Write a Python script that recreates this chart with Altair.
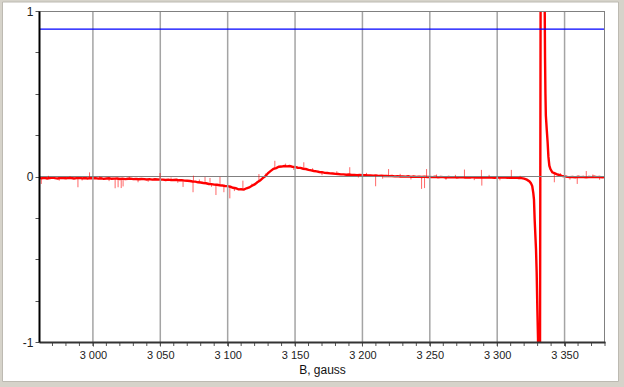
import altair as alt
import pandas as pd

# ---------------- data ----------------
B_main = list(range(2960, 3324, 2))
sig_main = [
    # 2960-3000
    -0.007, -0.011, -0.008, -0.012, -0.009, -0.006, -0.010, -0.012, -0.008, -0.010,
    -0.011, -0.008, -0.009, -0.012, -0.010, -0.008, -0.011, -0.009, -0.012, -0.010, -0.011,
    # 3002-3050
    -0.010, -0.013, -0.011, -0.014, -0.012, -0.011, -0.014, -0.013, -0.012, -0.015,
    -0.013, -0.016, -0.014, -0.013, -0.016, -0.015, -0.017, -0.015, -0.016, -0.018,
    -0.016, -0.019, -0.017, -0.018, -0.019,
    # 3052-3100
    -0.019, -0.021, -0.019, -0.022, -0.021, -0.020, -0.023, -0.022, -0.025, -0.026,
    -0.027, -0.030, -0.031, -0.035, -0.036, -0.039, -0.041, -0.045, -0.046, -0.049,
    -0.050, -0.053, -0.054, -0.057, -0.058,
    # 3102-3140
    -0.062, -0.068, -0.071, -0.078, -0.077, -0.079, -0.071, -0.066, -0.056, -0.048,
    -0.035, -0.025, -0.010, 0.002, 0.021, 0.034, 0.046, 0.051, 0.059, 0.060,
    # 3142-3200
    0.063, 0.061, 0.063, 0.059, 0.058, 0.053, 0.052, 0.047, 0.045, 0.040,
    0.037, 0.033, 0.031, 0.027, 0.026, 0.022, 0.021, 0.019, 0.018, 0.016,
    0.015, 0.013, 0.013, 0.011, 0.012, 0.010, 0.010, 0.008, 0.009, 0.008,
    # 3202-3250
    0.008, 0.006, 0.007, 0.005, 0.006, 0.004, 0.005, 0.003, 0.004, 0.002,
    0.003, 0.001, 0.002, 0.000, 0.001, -0.001, 0.001, -0.002, 0.000, -0.002,
    -0.001, -0.003, -0.001, -0.003, -0.002,
    # 3252-3322
    -0.004, -0.002, -0.005, -0.003, -0.004, -0.006, -0.003, -0.005, -0.004, -0.006,
    -0.005, -0.004, -0.006, -0.005, -0.007, -0.004, -0.006, -0.005, -0.007, -0.006,
    -0.005, -0.007, -0.006, -0.008, -0.006, -0.007, -0.005, -0.007, -0.008, -0.006,
    -0.008, -0.007, -0.009, -0.010, -0.013, -0.019,
]
B_peak = [3324, 3325, 3326, 3326.8, 3327.3, 3327.8, 3328.8, 3329.3, 3329.8, 3330.3,
          3330.8, 3331.5, 3332.5, 3333.5, 3334.5, 3335.2, 3335.5, 3335.8, 3336.1, 3336.8,
          3337.4, 3338.0, 3338.7, 3339.5, 3340.9, 3342, 3344, 3346, 3348, 3350]
sig_peak = [-0.030, -0.040, -0.058, -0.10, -0.14, -0.26, -0.44, -0.58, -0.80, -0.98,
            -1.6, -2.5, 2.5, 3.0, 2.2, 1.1, 0.72, 0.50, 0.37, 0.28,
            0.21, 0.12, 0.065, 0.045, 0.025, 0.022, 0.014, 0.009, 0.004, 0.001]
B_tail = list(range(3352, 3382, 2))
sig_tail = [-0.002, -0.004, -0.003, -0.005, -0.002, -0.004, -0.003, -0.005, -0.003, -0.004,
            -0.002, -0.004, -0.003, -0.005, -0.004]

spike_B = [2961.7, 2988.9, 2997.5, 3016.5, 3018.7, 3021.0, 3022.4, 3033.5, 3049.8, 3066.9,
           3074.3, 3074.6, 3083.2, 3086.9, 3091.3, 3094.3, 3097.2, 3101.6, 3111.3, 3123.2,
           3135.0, 3156.5, 3190.6, 3209.8, 3219.4, 3243.9, 3246.1, 3247.6, 3275.7, 3288.3,
           3288.6, 3310.5, 3342.4, 3359.4, 3366.1,
           2967, 2975, 2983, 2992, 3005, 3012, 3027, 3041, 3058, 3063,
           3079, 3088, 3105, 3118, 3128, 3143, 3149, 3163, 3170, 3181,
           3197, 3203, 3215, 3228, 3236, 3255, 3262, 3269, 3283, 3294,
           3302, 3317, 3347, 3354, 3371, 3376]
spike_base = [-0.008, -0.009, -0.010, -0.012, -0.012, -0.012, -0.013, -0.014, -0.016, -0.024,
              -0.029, -0.029, -0.040, -0.044, -0.050, -0.054, -0.056, -0.062, -0.078, -0.030,
              0.050, 0.045, 0.012, 0.004, 0.001, -0.004, -0.004, -0.004, -0.006, -0.007,
              -0.007, -0.008, 0.020, -0.003, -0.003,
              -0.009, -0.010, -0.009, -0.010, -0.012, -0.013, -0.014, -0.016, -0.021, -0.022,
              -0.034, -0.045, -0.068, -0.060, 0.000, 0.062, 0.056, 0.033, 0.025, 0.017,
              0.009, 0.008, 0.003, 0.000, -0.001, -0.004, -0.004, -0.006, -0.006, -0.006,
              -0.007, -0.011, 0.005, -0.003, -0.004, -0.004]
spike_tip = [-0.045, -0.065, 0.025, -0.071, -0.065, -0.070, -0.060, -0.035, 0.021, -0.063,
             -0.095, 0.005, -0.003, -0.009, -0.112, -0.003, -0.095, -0.132, -0.025, 0.015,
             0.095, 0.086, 0.056, -0.059, 0.045, -0.075, -0.070, 0.045, 0.042, 0.040,
             -0.055, 0.040, -0.035, -0.045, 0.033,
             0.004, -0.025, 0.003, -0.024, 0.001, -0.028, -0.001, -0.032, -0.006, -0.038,
             -0.018, -0.062, -0.088, -0.043, 0.018, 0.078, 0.040, 0.050, 0.008, 0.032,
             -0.006, 0.022, -0.013, 0.016, -0.018, 0.012, -0.020, 0.010, -0.022, 0.010,
             -0.023, 0.004, 0.020, -0.019, 0.012, -0.020]

grid_B = [3000, 3050, 3100, 3150, 3200, 3250, 3300, 3350]
x_minor = list(range(2970, 3381, 10))
y_ticks = [-1, -0.75, -0.5, -0.25, 0, 0.25, 0.5, 0.75, 1]
blue_level = [0.89]
zero_level = [0]

# ---------------- tables ----------------
line_df = pd.DataFrame({"B": B_main + B_peak + B_tail, "v": sig_main + sig_peak + sig_tail})
spike_df = pd.DataFrame({"B": spike_B, "base": spike_base, "tip": spike_tip})
grid_df = pd.DataFrame({"B": grid_B})
minor_df = pd.DataFrame({"B": x_minor})
blue_df = pd.DataFrame({"v": blue_level})
zero_df = pd.DataFrame({"v": zero_level})
one = pd.DataFrame({"a": [0]})

W, H = 566, 331
L, T, R, BOT = 39, 11, 19, 45
FONT = "Liberation Sans"
FRAME = "#d6d3ca"
xs = alt.Scale(domain=[2960, 3380], nice=False, zero=False)
ys = alt.Scale(domain=[-1, 1], nice=False, zero=False)


def strip(x0, x1, y0, y1):
    return alt.Chart(one).mark_rect(fill=FRAME, clip=False).encode(
        x=alt.value(x0), x2=alt.value(x1), y=alt.value(y0), y2=alt.value(y1)
    )


frame = [
    strip(-L, -L + 2.5, -T, H + BOT),
    strip(-L, W + R, -T, -T + 2),
    strip(W + R - 5.5, W + R, -T, H + BOT),
    strip(-L, W + R, H + BOT - 5.5, H + BOT),
]
inner = alt.Chart(one).mark_rect(fill="transparent", stroke="#bdbab2", strokeWidth=1, clip=False).encode(
    x=alt.value(-L + 2.5), x2=alt.value(W + R - 5.5), y=alt.value(-T + 2), y2=alt.value(H + BOT - 5.5)
)

grid = alt.Chart(grid_df).mark_rule(color="#a4a4a4", strokeWidth=1.5).encode(
    x=alt.X("B:Q", scale=xs)
)
minor = alt.Chart(minor_df).mark_rule(color="#555555", strokeWidth=1, clip=False).encode(
    x=alt.X("B:Q", scale=xs), y=alt.value(H), y2=alt.value(H + 4)
)
zero = alt.Chart(zero_df).mark_rule(color="#808080", strokeWidth=1).encode(
    y=alt.Y("v:Q", scale=ys)
)
blue = alt.Chart(blue_df).mark_rule(color="#0000ff", strokeWidth=1.2).encode(
    y=alt.Y("v:Q", scale=ys)
)
spikes = alt.Chart(spike_df).mark_rule(color="#ff0000", strokeWidth=1, opacity=0.6).encode(
    x=alt.X("B:Q", scale=xs),
    y=alt.Y("base:Q", scale=ys),
    y2="tip:Q",
)
line = alt.Chart(line_df).mark_line(color="#ff0000", strokeWidth=2.4, clip=True).encode(
    x=alt.X(
        "B:Q", scale=xs,
        axis=alt.Axis(
            values=grid_B,
            labelExpr="replace(format(datum.value, ','), ',', ' ')",
            grid=False, tickSize=4, tickColor="#555555", tickWidth=1,
            domainColor="#333333", domainWidth=2,
            labelFont=FONT, labelFontSize=11, labelColor="#222222", labelPadding=3,
            labelOverlap=False, labelFlush=False,
            title="B, gauss", titleFont=FONT, titleFontSize=12, titleFontWeight="normal",
            titleColor="#111111", titlePadding=4, zindex=1,
        ),
    ),
    y=alt.Y(
        "v:Q", scale=ys,
        axis=alt.Axis(
            values=y_ticks,
            labelExpr="(datum.value == 1 || datum.value == 0 || datum.value == -1) ? '' + datum.value : ''",
            grid=False, tickSize=4, tickColor="#555555", tickWidth=1,
            domainColor="#000000", domainWidth=2,
            labelFont=FONT, labelFontSize=12, labelColor="#222222", labelPadding=2,
            labelOverlap=False, labelFlush=False, title=None, zindex=1,
        ),
    ),
)

top_border = alt.Chart(one).mark_rule(color="#808080", strokeWidth=1).encode(
    x=alt.value(0), x2=alt.value(W), y=alt.value(0.5)
)
right_border = alt.Chart(one).mark_rule(color="#808080", strokeWidth=1).encode(
    x=alt.value(W - 0.5), y=alt.value(0), y2=alt.value(H)
)

chart = alt.layer(line, grid, minor, zero, blue, spikes, top_border, right_border, *frame, inner).properties(
    width=W, height=H,
    padding={"left": L, "top": T, "right": R, "bottom": BOT},
    autosize=alt.AutoSizeParams(type="none"),
    background="white",
).configure_view(stroke="transparent")

chart.save("out.html", embed_options={"renderer": "svg", "actions": False})
